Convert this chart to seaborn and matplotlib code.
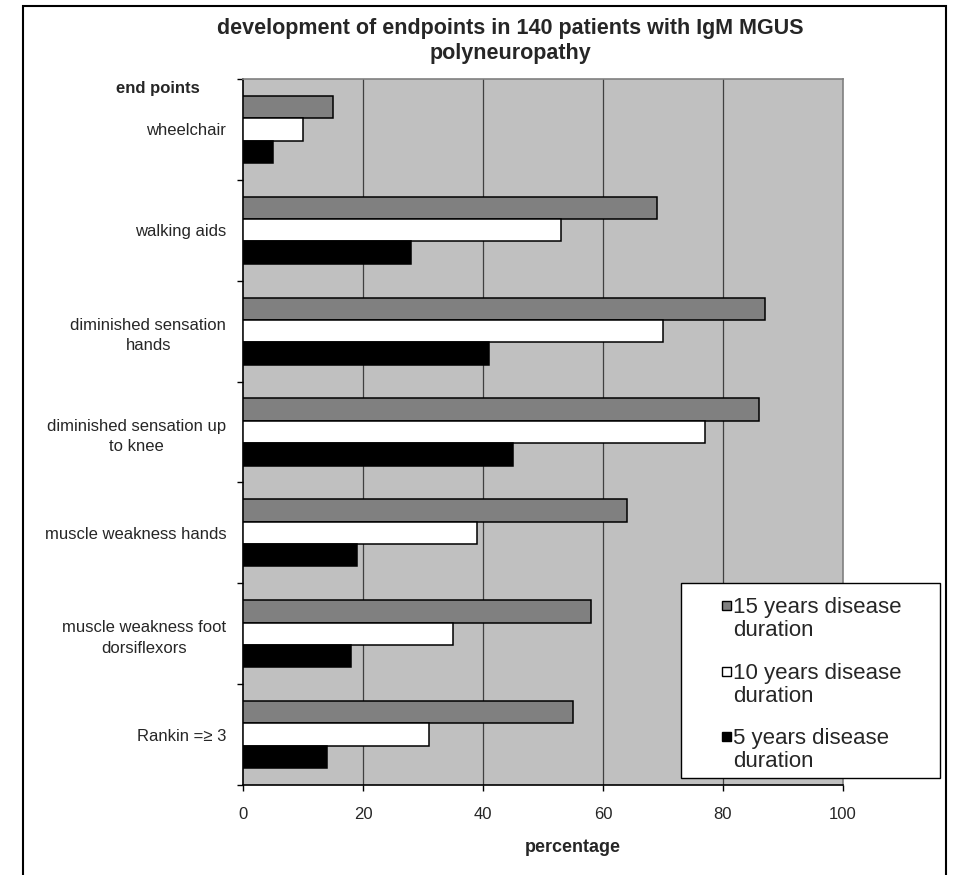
import pandas as pd
import matplotlib
matplotlib.use("Agg")
import matplotlib.pyplot as plt
from matplotlib.patches import Rectangle
import seaborn as sns

# values (percent of patients)
endpoints = ["wheelchair", "walking aids", "diminished sensation\nhands",
             "diminished sensation up\nto knee", "muscle weakness hands",
             "muscle weakness foot\ndorsiflexors", "Rankin =\u2265 3"]
durations = ["15 years disease duration", "10 years disease duration",
             "5 years disease duration"]
pct_15 = [15, 69, 87, 86, 64, 58, 55]
pct_10 = [10, 53, 70, 77, 39, 35, 31]
pct_5 = [5, 28, 41, 45, 19, 18, 14]
colors = ["#808080", "#ffffff", "#000000"]

rows = []
for dur, vals in zip(durations, [pct_15, pct_10, pct_5]):
    for ep, v in zip(endpoints, vals):
        rows.append({"endpoint": ep, "duration": dur, "pct": v})
df = pd.DataFrame(rows)

sns.set_style("white")
plt.rcParams["font.family"] = ["Liberation Sans", "DejaVu Sans"]

W, H = 957, 875
fig = plt.figure(figsize=(W / 100, H / 100), dpi=100)
ax = fig.add_axes([243 / W, 1 - 785 / H, 600 / W, 706 / H])
ax.set_facecolor("#c0c0c0")

sns.barplot(data=df, y="endpoint", x="pct", hue="duration", order=endpoints,
            hue_order=durations, palette=dict(zip(durations, colors)),
            orient="h", width=0.667, edgecolor="black", linewidth=1.1,
            legend=False, ax=ax, zorder=3)

ax.set_xlim(0, 100)
ax.set_ylim(6.5, -0.5)
ax.set_xticks(range(0, 101, 20))
for x in range(20, 100, 20):
    ax.axvline(x, color="#404040", lw=0.9, zorder=1)

ax.set_yticks(range(len(endpoints)))
ax.set_yticklabels(endpoints, ha="right", multialignment="center",
                   linespacing=1.45)
ax.set_yticks([i - 0.5 for i in range(len(endpoints) + 1)], minor=True)
ax.tick_params(axis="y", which="major", length=0, pad=12, labelsize=12)
ax.tick_params(axis="y", which="minor", length=4, width=1, color="black",
               direction="out", left=True)
ax.tick_params(axis="x", length=4, width=1, color="black", direction="out",
               pad=12, labelsize=12, bottom=True)
ax.set_xlabel("")
ax.set_ylabel("")

for side in ["left", "bottom"]:
    ax.spines[side].set_color("black")
    ax.spines[side].set_linewidth(1.2)
for side in ["top", "right"]:
    ax.spines[side].set_color("#808080")
    ax.spines[side].set_linewidth(1.2)

# titles and axis labels
fig.text(510 / W, 1 - 41 / H,
         "development of endpoints in 140 patients with IgM MGUS\npolyneuropathy",
         ha="center", va="center", fontsize=15.5, fontweight="bold", linespacing=1.2)
fig.text(116 / W, 1 - 89 / H, "end points", ha="left", va="center",
         fontsize=12, fontweight="bold")
fig.text(573 / W, 1 - 848 / H, "percentage", ha="center", va="center",
         fontsize=13, fontweight="bold")

# legend box drawn by hand so the square sits next to the first line
fig.patches.append(Rectangle((681 / W, 1 - 778 / H), 259 / W, 195 / H,
                             transform=fig.transFigure, facecolor="white",
                             edgecolor="black", lw=1, zorder=5))
for i, (dur, c) in enumerate(zip(durations, colors)):
    yc = 605 + i * 65.5
    fig.patches.append(Rectangle((722 / W, 1 - (yc + 5) / H), 9 / W, 9 / H,
                                 transform=fig.transFigure, facecolor=c,
                                 edgecolor="black", lw=1, zorder=6))
    first, second = dur.rsplit(" ", 1)
    fig.text(733 / W, 1 - yc / H, first, ha="left", va="center_baseline",
             fontsize=16, zorder=7)
    fig.text(733 / W, 1 - (yc + 23) / H, second, ha="left",
             va="center_baseline", fontsize=16, zorder=7)

# outer border of the chart
fig.patches.append(Rectangle((23 / W, -0.05), 923 / W, 1.05 - 6 / H,
                             transform=fig.transFigure, fill=False,
                             edgecolor="black", lw=1.5, zorder=8))

fig.savefig("out.png", dpi=100)
